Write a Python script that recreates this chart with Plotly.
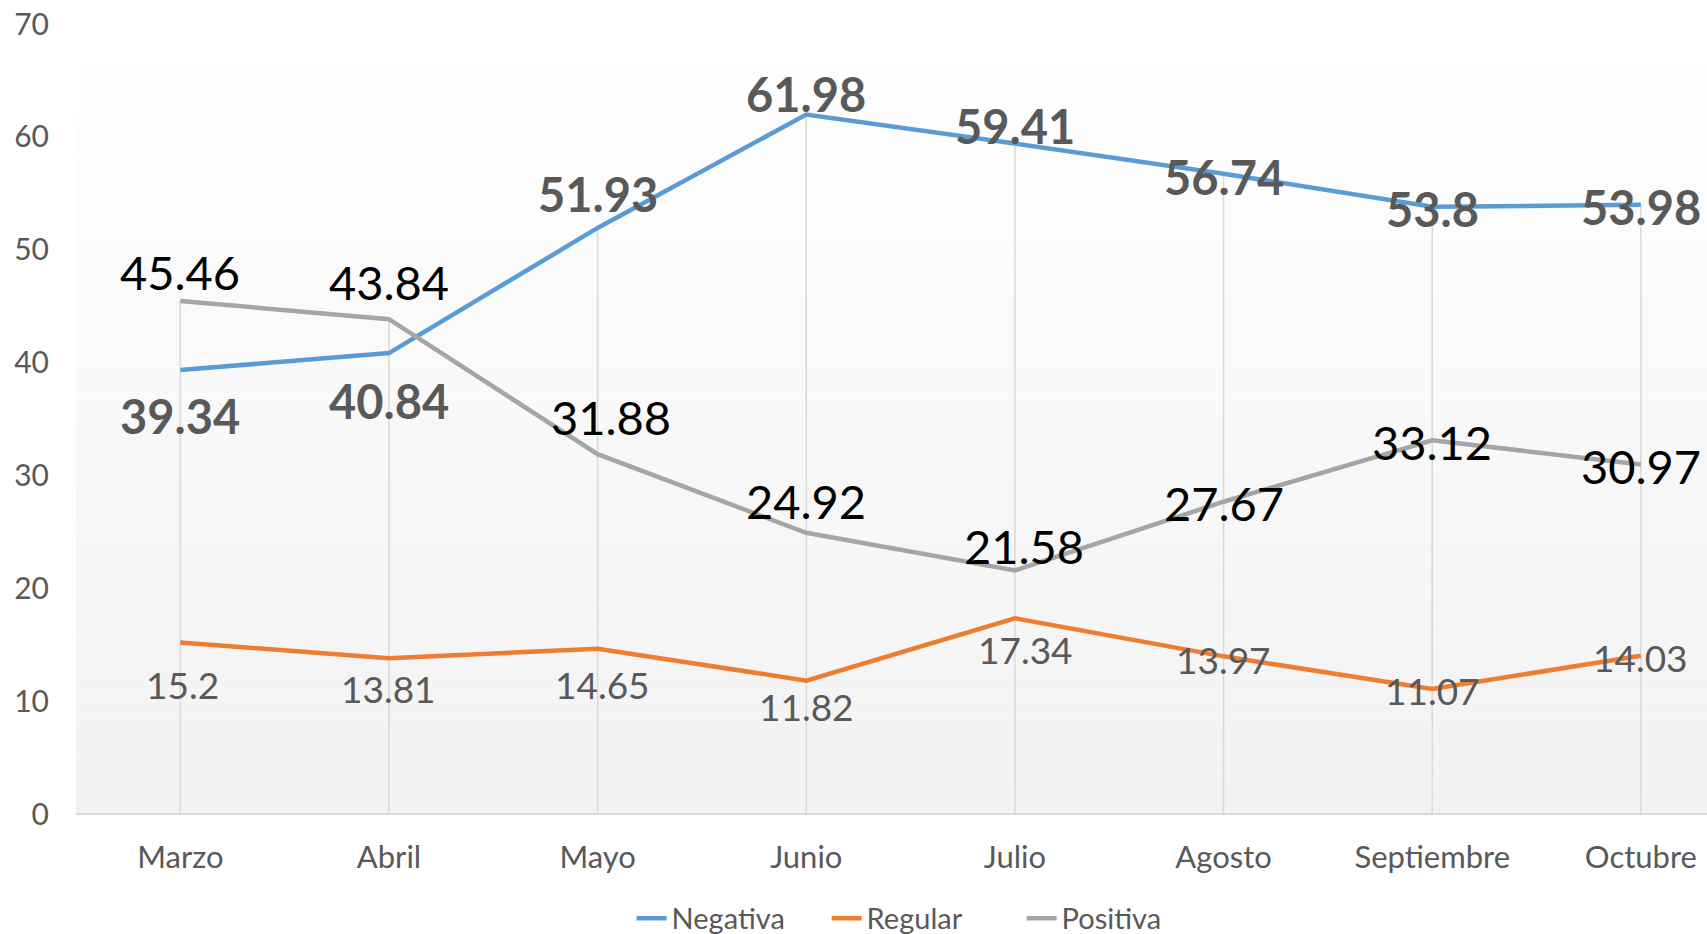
import plotly.graph_objects as go

# ---- data ----
categories = ["Marzo", "Abril", "Mayo", "Junio", "Julio", "Agosto", "Septiembre", "Octubre"]
negativa = [39.34, 40.84, 51.93, 61.98, 59.41, 56.74, 53.8, 53.98]
regular = [15.2, 13.81, 14.65, 11.82, 17.34, 13.97, 11.07, 14.03]
positiva = [45.46, 43.84, 31.88, 24.92, 21.58, 27.67, 33.12, 30.97]
y_ticks = [0, 10, 20, 30, 40, 50, 60, 70]

# ---- label offsets (px) ----
neg_dy = [-46, -48, 34, 21, 18, -3, -2, -2]
pos_dy = [29, 37, 37, 32, 24, -1, -2, -2]
pos_dx = [0, 0, 13, 0, 9, 0, 0, 0]
reg_dy = [-42, -30, -36, -26, -31, -3, -1, -2]
reg_dx = [2, 0, 5, 0, 11, 0, 0, 0]

FONT = "Lato"
C_NEG = "#5B9BD5"
C_REG = "#ED7D31"
C_POS = "#A5A5A5"
C_TXT = "#595959"

fig = go.Figure()

# drop lines from the highest point to the axis
dx, dy = [], []
for i, c in enumerate(categories):
    dx += [c, c, None]
    dy += [max(negativa[i], regular[i], positiva[i]), 0, None]
fig.add_trace(go.Scatter(x=dx, y=dy, mode="lines", line=dict(color="#D9D9D9", width=1.5),
                         showlegend=False, hoverinfo="skip"))

for name, vals, col in [("Negativa", negativa, C_NEG), ("Regular", regular, C_REG), ("Positiva", positiva, C_POS)]:
    fig.add_trace(go.Scatter(x=categories, y=vals, mode="lines", name=name,
                             line=dict(color=col, width=4.5)))

annotations = []
for i, c in enumerate(categories):
    annotations.append(dict(x=c, y=negativa[i], text=f"{negativa[i]:g}", showarrow=False,
                            yshift=neg_dy[i], font=dict(family=FONT, size=47, color=C_TXT, weight="bold")))
    annotations.append(dict(x=c, y=positiva[i], text=f"{positiva[i]:g}", showarrow=False,
                            yshift=pos_dy[i], xshift=pos_dx[i], font=dict(family=FONT, size=47, color="#000000")))
    annotations.append(dict(x=c, y=regular[i], text=f"{regular[i]:g}", showarrow=False,
                            yshift=reg_dy[i], xshift=reg_dx[i], font=dict(family=FONT, size=37, color=C_TXT)))

# vertical gradient background for the plot area
shapes = []
n = 70
for k in range(n):
    t = (k + 0.5) / n  # 0 at bottom, 1 at top
    v = round(242 + (255 - 242) * t)
    shapes.append(dict(type="rect", xref="paper", yref="y", x0=0, x1=1,
                       y0=70 * k / n, y1=70 * (k + 1) / n, line=dict(width=0),
                       fillcolor=f"rgb({v},{v},{v})", layer="below"))

fig.update_layout(
    width=1707, height=934,
    margin=dict(l=76, r=0, t=24, b=120, autoexpand=False),
    paper_bgcolor="white", plot_bgcolor="white",
    font=dict(family=FONT, color=C_TXT),
    showlegend=True,
    legend=dict(orientation="h", x=0.520, xanchor="center", y=-0.132, yanchor="middle",
                entrywidth=150, entrywidthmode="pixels",
                font=dict(family=FONT, size=29, color=C_TXT), bgcolor="rgba(0,0,0,0)"),
    annotations=annotations,
    shapes=shapes,
    hovermode=False,
)
fig.update_xaxes(type="category", range=[-0.5, 7.317], showgrid=False, zeroline=False,
                 showline=False, ticks="", tickfont=dict(family=FONT, size=31, color=C_TXT),
                 ticklabelstandoff=22, automargin=False, ticklabeloverflow="allow")
fig.update_yaxes(range=[0, 70], tickvals=y_ticks, showgrid=False, zeroline=True,
                 zerolinecolor="#D9D9D9", zerolinewidth=2, showline=False, ticks="",
                 tickfont=dict(family=FONT, size=30, color=C_TXT), ticklabelstandoff=26,
                 automargin=False, ticklabeloverflow="allow")

fig.write_html("out.html", config={"displayModeBar": False},
               post_script="document.body.style.margin='0';document.body.style.overflow='hidden';")
